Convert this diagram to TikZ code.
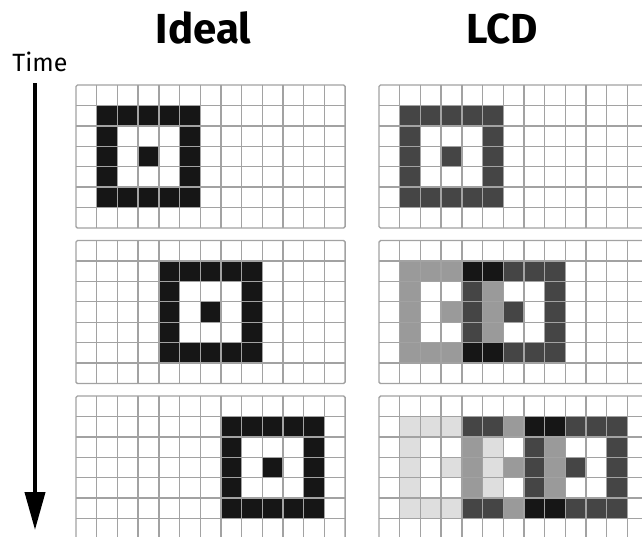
\documentclass[tikz,border=0pt]{standalone}
\usepackage{fontspec}
\setmainfont{Fira Sans}
\usepackage{tikz}
\usetikzlibrary{arrows.meta}

\definecolor{pixblk}{HTML}{161616}
\definecolor{pixdrk}{HTML}{454545}
\definecolor{pixmid}{HTML}{9A9A9A}
\definecolor{pixlgt}{HTML}{DEDEDE}
\definecolor{gridgray}{HTML}{A2A2A2}

% one 13x7 pixel panel: #1,#2 = top-left corner, #3 = rings (col/colour), #4 = single cells (col/row/colour)
\newcommand{\pixpanel}[4]{%
  \begin{scope}[shift={(#1,#2)},x=20.7pt,y=-20.43pt]
    \foreach \c/\f in {#3}{%
      \foreach \k in {0,...,4}{\fill[\f] (\c+\k,1) rectangle ++(1,1); \fill[\f] (\c+\k,5) rectangle ++(1,1);}
      \foreach \r in {2,3,4}{\fill[\f] (\c,\r) rectangle ++(1,1); \fill[\f] (\c+4,\r) rectangle ++(1,1);}
      \fill[\f] (\c+2,3) rectangle ++(1,1);}
    \foreach \c/\r/\f in {#4}{\fill[\f] (\c,\r) rectangle ++(1,1);}
    \foreach \i in {1,...,12} \draw[gridline] (\i,0) -- (\i,7);
    \foreach \j in {1,...,6} \draw[gridline] (0,\j) -- (13,\j);
    \draw[gridline,rounded corners=1.5pt] (0,0) rectangle (13,7);
  \end{scope}}

\begin{document}
\begin{tikzpicture}[x=1pt,y=-1pt,
  gridline/.style={draw=gridgray,line width=1.4pt},
  head/.style={font=\bfseries\fontsize{42}{42}\selectfont,anchor=base,inner sep=0pt},
  lab/.style={font=\fontsize{25}{25}\selectfont,anchor=base,inner sep=0pt},
  timearr/.style={line width=4pt,-{Triangle[width=20pt,length=38pt]}}]
\useasboundingbox (0,0) rectangle (642,536);
\clip (0,0) rectangle (642,536);
% ---------- titles ----------
\node[head] (ideal) at (203.5,43) {Ideal};
\node[head] (lcd) at (502.5,43) {LCD};
\node[lab] (time) at (40,71) {Time};
\coordinate (tstart) at (35,83);
\coordinate (tend) at (35,530);
\draw[timearr] (tstart) -- (tend);
% ---------- ideal column ----------
\pixpanel{76}{85}{1/pixblk}{}
\pixpanel{76}{240.5}{4/pixblk}{}
\pixpanel{76}{396}{7/pixblk}{}
% ---------- LCD column ----------
\pixpanel{379}{85}{1/pixdrk}{}
\pixpanel{379}{240.5}{1/pixmid,4/pixdrk}{4/1/pixblk,5/1/pixblk,4/5/pixblk,5/5/pixblk}
\pixpanel{379}{396}{1/pixlgt,4/pixmid,7/pixdrk}{4/1/pixdrk,5/1/pixdrk,4/5/pixdrk,5/5/pixdrk,7/1/pixblk,8/1/pixblk,7/5/pixblk,8/5/pixblk}
\end{tikzpicture}
\end{document}
